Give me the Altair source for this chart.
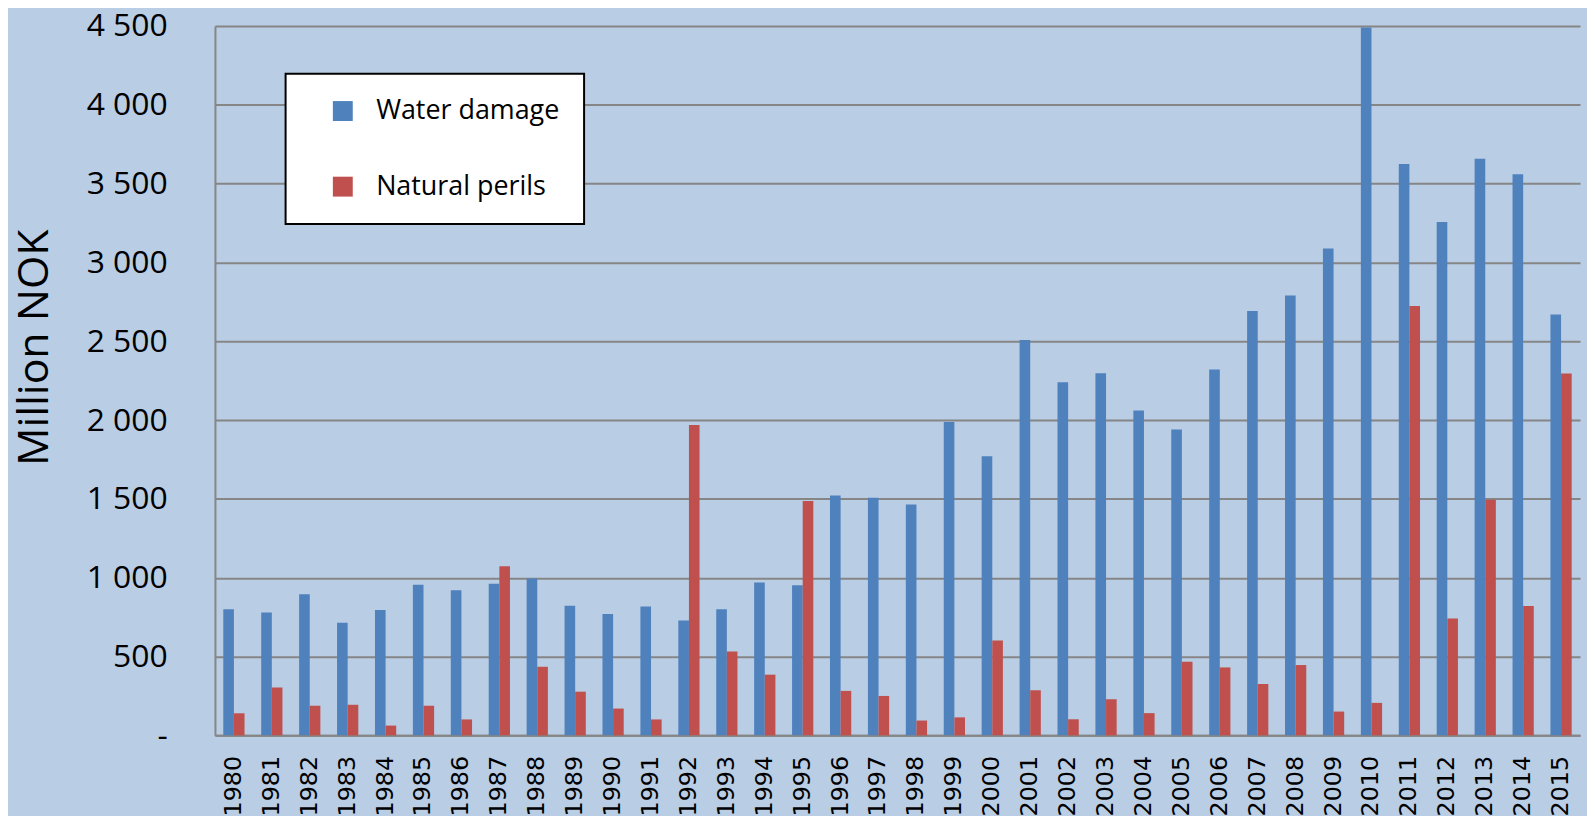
import altair as alt
import pandas as pd

years = ["1980", "1981", "1982", "1983", "1984", "1985", "1986", "1987", "1988", "1989",
         "1990", "1991", "1992", "1993", "1994", "1995", "1996", "1997", "1998", "1999",
         "2000", "2001", "2002", "2003", "2004", "2005", "2006", "2007", "2008", "2009",
         "2010", "2011", "2012", "2013", "2014", "2015"]

water_damage = [800, 780, 895, 715, 795, 955, 920, 962, 995, 822,
                770, 818, 728, 800, 970, 952, 1522, 1507, 1465, 1987,
                1770, 2508, 2240, 2297, 2060, 1940, 2320, 2692, 2790, 3088,
                4490, 3625, 3256, 3658, 3560, 2670]

natural_perils = [140, 303, 188, 194, 62, 188, 101, 1072, 435, 277,
                  170, 101, 1968, 532, 385, 1487, 282, 250, 94, 114,
                  601, 286, 102, 229, 141, 467, 431, 326, 446, 151,
                  206, 2724, 742, 1494, 820, 2295]

series_order = ["Water damage", "Natural perils"]
series_colors = ["#4F81BD", "#C0504D"]
y_ticks = [0, 500, 1000, 1500, 2000, 2500, 3000, 3500, 4000, 4500]

rows = []
for yr, w, n in zip(years, water_damage, natural_perils):
    rows.append({"year": yr, "series": "Water damage", "value": w})
    rows.append({"year": yr, "series": "Natural perils", "value": n})
df = pd.DataFrame(rows)

BG = "#B9CDE5"
GRID = "#868686"

chart = alt.Chart(df).mark_bar().encode(
    x=alt.X(
        "year:N",
        sort=years,
        title=None,
        scale=alt.Scale(paddingInner=0.44, paddingOuter=0.22),
        axis=alt.Axis(
            labelAngle=270,
            labelAlign="right",
            labelBaseline="middle",
            labelFont="DejaVu Sans",
            labelFontSize=24,
            labelColor="black",
            labelPadding=20,
            ticks=False,
            grid=False,
            domainColor=GRID,
            domainWidth=2,
        ),
    ),
    xOffset=alt.XOffset(
        "series:N",
        sort=series_order,
        scale=alt.Scale(domain=series_order, paddingInner=0, paddingOuter=0),
    ),
    y=alt.Y(
        "value:Q",
        title="Million NOK",
        scale=alt.Scale(domain=[0, 4500], nice=False),
        axis=alt.Axis(
            values=y_ticks,
            labelExpr="datum.value == 0 ? '-' : replace(format(datum.value, ','), ',', ' ')",
            labelFont="Open Sans",
            labelFontSize=32,
            labelColor="black",
            labelPadding=48,
            ticks=False,
            grid=True,
            gridColor=GRID,
            gridWidth=2,
            gridOpacity=1,
            domainColor=GRID,
            domainWidth=2,
            titleFont="Open Sans",
            titleFontSize=43,
            titleFontWeight="normal",
            titleColor="black",
            titleAngle=270,
            titleAlign="center",
            titleBaseline="middle",
            titleX=-181,
            titleY=323,
        ),
    ),
    color=alt.Color(
        "series:N",
        sort=series_order,
        scale=alt.Scale(domain=series_order, range=series_colors),
        legend=alt.Legend(
            title=None,
            orient="none",
            legendX=71,
            legendY=48,
            fillColor="white",
            strokeColor="black",
            padding=24,
            rowPadding=48,
            symbolType="square",
            symbolSize=400,
            symbolOffset=20,
            symbolStrokeWidth=0,
            symbolOpacity=1,
            labelOffset=20,
            labelLimit=500,
            labelFont="Open Sans",
            labelFontSize=27,
            labelColor="black",
        ),
    ),
).properties(
    width=1372,
    height=713,
    autosize=alt.AutoSizeParams(type="none"),
    padding={"left": 208, "top": 16, "right": 7, "bottom": 79},
    background=BG,
).configure_view(
    fill=BG,
    stroke=None,
).configure_legend(
    strokeWidth=2,
)

chart.save("out.html", embed_options={"renderer": "svg", "actions": False})
